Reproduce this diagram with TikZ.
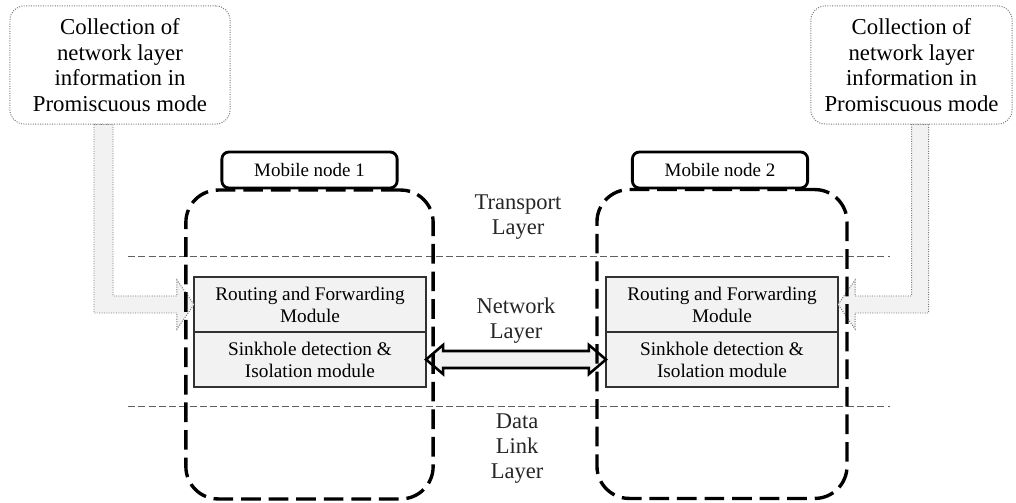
\documentclass[tikz,border=0pt]{standalone}
\usepackage{fontspec}
\setmainfont{Liberation Serif}
\usepackage{tikz}
\usetikzlibrary{positioning, calc}
\usepackage{xcolor}
\definecolor{panelgray}{RGB}{242,242,242}
\definecolor{edgegray}{RGB}{120,120,120}
\definecolor{linegray}{RGB}{95,95,95}
\definecolor{boxedge}{RGB}{50,50,50}

\begin{document}
\begin{tikzpicture}[x=0.025cm, y=-0.025cm,
    infobox/.style={draw=edgegray, densely dotted, line width=0.7pt, rounded corners=10pt,
      fill=white, align=center, inner sep=0pt, minimum height=2.95cm,
      font=\fontsize{16.2}{18.1}\selectfont},
    layerline/.style={draw=linegray, line width=0.7pt, dash pattern=on 5pt off 2.3pt},
    layerlabel/.style={align=center, text=black!85, font=\fontsize{16}{17.8}\selectfont},
    shell/.style={draw, line width=2.4pt, dash pattern=on 14pt off 5.6pt,
      rounded corners=23pt, minimum height=7.72cm},
    tagbox/.style={draw, fill=white, line width=2pt, rounded corners=5pt,
      minimum width=4.38cm, minimum height=0.9cm, font=\fontsize{13.5}{15}\selectfont},
    module/.style={draw=boxedge, fill=panelgray, line width=1pt, outer sep=0pt,
      minimum width=5.8cm, minimum height=1.375cm, align=center, inner sep=0pt,
      font=\fontsize{13.7}{15.6}\selectfont},
    feedarrow/.style={draw=edgegray, densely dotted, line width=0.7pt, fill=panelgray},
    linkarrow/.style={draw=black, line width=1.8pt, fill=panelgray, line join=miter}]
  \useasboundingbox (0,0) rectangle (1016,503);

  % Layer boundaries
  \coordinate (upL) at (128,256);
  \coordinate (upR) at (890,256);
  \coordinate (lowL) at (128,406);
  \coordinate (lowR) at (890,406);
  \draw[layerline] (upL) -- (upR);
  \draw[layerline] (lowL) -- (lowR);

  % Layer names
  \node[layerlabel] (transport) at (518,217.5) {Transport\\Layer};
  \node[layerlabel] (network) at (516,321) {Network\\Layer};
  \node[layerlabel] (datalink) at (517,448.5) {Data\\Link\\Layer};

  % Promiscuous information sources
  \node[infobox, minimum width=5.5cm] (infoL) at (120,65)
    {Collection of\\network layer\\information in\\Promiscuous mode};
  \node[infobox, minimum width=5.03cm] (infoR) at (911.5,65)
    {Collection of\\network layer\\information in\\Promiscuous mode};

  % Modules inside the nodes
  \node[module] (routeL) at (310,304.5) {Routing and Forwarding\\Module};
  \node[module, below=0pt of routeL] (sinkL) {Sinkhole detection \&\\Isolation module};
  \node[module] (routeR) at (722,304.5) {Routing and Forwarding\\Module};
  \node[module, below=0pt of routeR] (sinkR) {Sinkhole detection \&\\Isolation module};

  % Bent feed arrows
  \draw[feedarrow] ($(infoL.south)+(-26,0)$) |- ($(routeL.west)+(-17,8.5)$) -- ++(0,16)
    -- (routeL.west) -- ++(-17,-24.5) -- ++(0,16) -| ($(infoL.south)+(-7,0)$) -- cycle;
  \draw[feedarrow] ($(infoR.south)+(17,0)$) |- ($(routeR.east)+(17,8.5)$) -- ++(0,16)
    -- (routeR.east) -- ++(17,-24.5) -- ++(0,16) -| ($(infoR.south)+(0,0)$) -- cycle;

  % Link between the two detection modules
  \draw[linkarrow] (sinkL.east) -- ++(17,-14.5) -- ++(0,6)
    -- ($(sinkR.west)+(-17,-8.5)$) -- ++(0,-6) -- (sinkR.west) -- ++(-17,14.5)
    -- ++(0,-6) -- ($(sinkL.east)+(17,8.5)$) -- ++(0,6) -- cycle;

  % Mobile nodes
  \node[shell, minimum width=6.18cm] (shellL) at (309.5,344.5) {};
  \node[shell, minimum width=6.25cm] (shellR) at (722,344) {};
  \node[tagbox] (tagL) at (309.5,170) {Mobile node 1};
  \node[tagbox] (tagR) at (720,170) {Mobile node 2};
\end{tikzpicture}
\end{document}
